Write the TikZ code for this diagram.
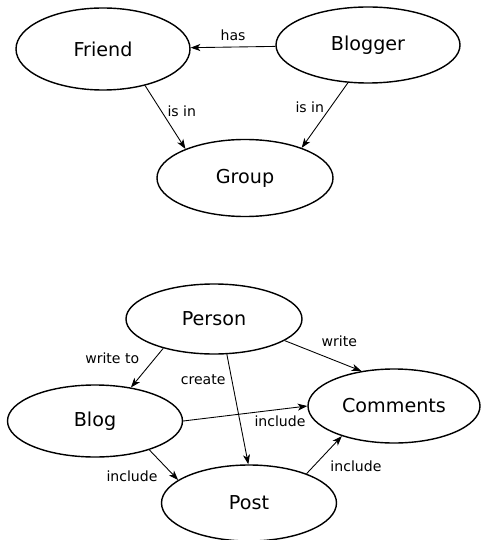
\documentclass[tikz,border=0pt]{standalone}
\usepackage{fontspec}
\setmainfont{DejaVu Sans}
\usepackage{tikz}
\usetikzlibrary{arrows.meta,shapes.geometric,positioning}
\tikzset{entity/.style={ellipse,draw,line width=0.8pt,inner sep=0pt,font=\fontsize{10.9}{13}\selectfont}}

\begin{document}
\begin{tikzpicture}[baseline=(current bounding box.center)]
\useasboundingbox (0,0) rectangle (9.62,-10.8);
\node[entity,minimum width=3.48cm,minimum height=1.64cm] (Fr) at (2.06,-0.98) {Friend};
\node[entity,minimum width=3.68cm,minimum height=1.52cm] (Bl) at (7.36,-0.90) {Blogger};
\node[entity,minimum width=3.52cm,minimum height=1.54cm] (Gr) at (4.90,-3.56) {Group};
\node[entity,minimum width=3.52cm,minimum height=1.40cm] (Pe) at (4.28,-6.38) {Person};
\node[entity,minimum width=3.50cm,minimum height=1.44cm] (Bg) at (1.90,-8.42) {Blog};
\node[entity,minimum width=3.44cm,minimum height=1.48cm] (Co) at (7.88,-8.12) {Comments};
\node[entity,minimum width=3.50cm,minimum height=1.52cm] (Po) at (4.98,-10.06) {Post};
\path[-{Stealth[length=5.5pt,width=4pt,inset=1.5pt]},line width=0.5pt,font=\fontsize{8}{10}\selectfont]
(Bl) edge node[above]{has} (Fr)
(Fr.-41) edge node[pos=0.4,right]{is in} (Gr.154)
(Bl.-118) edge node[pos=0.38,left]{is in} (Gr.28)
(Pe.-150) edge node[pos=0.55,above left]{write to} (Bg.43)
(Pe.-17) edge node[pos=0.4,above right]{write} (Co.133)
(Pe.-70) edge node[pos=0.23,left]{create} (Po.91)
(Bg.east) edge node[pos=0.78,below]{include} (Co.west)
(Bg.-28) edge node[pos=0.5,below left]{include} (Po.162)
(Po.27) edge node[pos=0.5,below right]{include} (Co.-150);
\end{tikzpicture}
\end{document}
